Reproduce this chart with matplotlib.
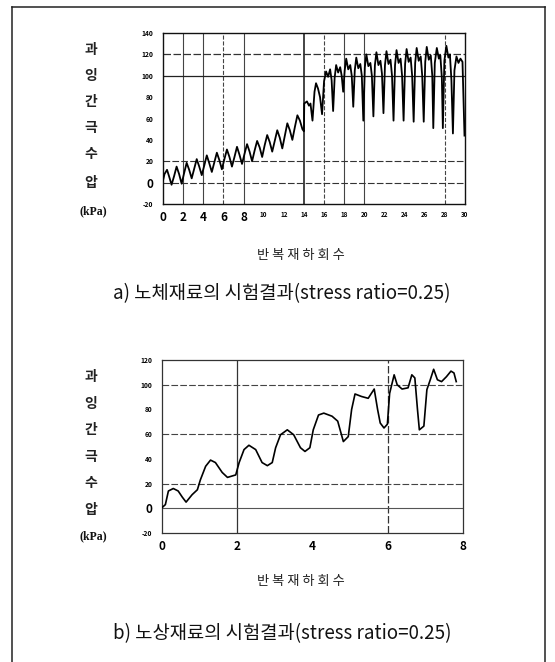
import matplotlib
matplotlib.use('Agg')
import matplotlib.pyplot as plt
from matplotlib.lines import Line2D

plt.rcParams['font.family'] = ['Noto Sans CJK KR', 'DejaVu Sans']

# (a) 노체재료 : 반복재하회수 vs 과잉간극수압 (kPa)
cycles_a = [0.0, 0.15, 0.4, 0.6, 0.85, 1.1, 1.35, 1.6, 1.85, 2.1, 2.35, 2.6, 2.85,
            3.1, 3.35, 3.6, 3.85, 4.1, 4.35, 4.6, 4.85, 5.1, 5.35, 5.6, 5.85,
            6.1, 6.35, 6.6, 6.85, 7.1, 7.35, 7.6, 7.85, 8.1, 8.35, 8.6, 8.85,
            9.1, 9.35, 9.6, 9.85, 10.1, 10.35, 10.6, 10.85, 11.1, 11.35, 11.6, 11.85,
            12.1, 12.35, 12.6, 12.85, 13.1, 13.35, 13.6, 13.85, 14.0,
            14.03, 14.3, 14.5, 14.65, 14.85, 15.05, 15.2, 15.4, 15.6, 15.8,
            16.0, 16.2, 16.4, 16.6, 16.75, 16.9, 17.05, 17.2, 17.4, 17.6, 17.75, 17.9,
            18.05, 18.2, 18.4, 18.6, 18.75, 18.9, 19.05, 19.2, 19.4, 19.6, 19.75, 19.9,
            20.05, 20.2, 20.4, 20.6, 20.75, 20.9, 21.05, 21.2, 21.4, 21.6, 21.75, 21.9,
            22.05, 22.2, 22.4, 22.6, 22.75, 22.9, 23.05, 23.2, 23.4, 23.6, 23.75, 23.9,
            24.05, 24.2, 24.4, 24.6, 24.75, 24.9, 25.05, 25.2, 25.4, 25.6, 25.75, 25.9,
            26.05, 26.2, 26.4, 26.6, 26.75, 26.85, 27.0, 27.2, 27.4, 27.55, 27.7, 27.8,
            27.95, 28.15, 28.35, 28.5, 28.65, 28.8, 28.95, 29.15, 29.35, 29.55, 29.75, 29.95]
pwp_a = [2, 8, 12, 6, -2, 6, 15, 8, -1, 9, 18.5, 12, 4,
         13, 22, 15, 7, 16, 25.5, 18, 10, 19, 28, 21, 12.5,
         22, 31, 24, 15, 24, 33.5, 26, 17.5, 27, 36, 29, 20,
         30, 39, 33, 24, 35, 44.5, 38, 29, 39, 49, 42, 32,
         44, 55.5, 49, 40, 52, 63, 58, 50, 48,
         74, 76, 72, 74, 58, 85, 93, 88, 80, 64,
         95, 104, 99, 106, 96, 67, 98, 110, 103, 108, 100, 85,
         105, 116, 106, 110, 100, 71, 105, 117, 107, 111, 100, 58,
         108, 120, 109, 112, 100, 62, 110, 122, 110, 114, 102, 65,
         110, 123, 111, 115, 100, 58, 110, 124, 112, 116, 100, 58,
         111, 125, 113, 117, 100, 57, 112, 126, 114, 118, 100, 57,
         113, 127, 115, 119, 100, 51, 112, 126, 116, 119, 98, 51,
         114, 128, 117, 120, 96, 46, 105, 118, 112, 116, 113, 44]

# (b) 노상재료
cycles_b = [0.0, 0.09, 0.17, 0.3, 0.43, 0.54, 0.64, 0.8, 0.94, 1.02, 1.16, 1.29, 1.42,
            1.6, 1.74, 1.96, 2.05, 2.18, 2.31, 2.49, 2.66, 2.8, 2.93, 3.02, 3.15,
            3.33, 3.5, 3.68, 3.8, 3.93, 4.02, 4.16, 4.3, 4.52, 4.67, 4.82, 4.95,
            5.04, 5.13, 5.3, 5.48, 5.64, 5.73, 5.8, 5.9, 5.99, 6.05, 6.17, 6.25,
            6.38, 6.54, 6.64, 6.72, 6.79, 6.84, 6.96, 7.04, 7.13, 7.22, 7.32, 7.43,
            7.56, 7.68, 7.76, 7.82]
pwp_b = [0.5, 3, 14, 16, 14, 9, 5, 11, 15, 23, 34, 39, 37,
         29, 25, 27, 37, 47.5, 51, 47.5, 37, 34.5, 37, 49, 59.5,
         63.5, 59.5, 49, 46, 49, 63.5, 75.5, 77, 74.5, 70.5, 54, 58,
         80, 92.5, 90.5, 89, 96.5, 80, 69, 65, 68, 93, 108, 100,
         96.5, 97.5, 108, 105.5, 80, 63.5, 66.5, 96, 104, 112.5, 104, 102.5,
         106.5, 111, 109.5, 102.5]

ytick_a = [-20, 0, 20, 40, 60, 80, 100, 120, 140]
xtick_a = list(range(0, 31, 2))
ytick_b = [-20, 0, 20, 40, 60, 80, 100, 120]
xtick_b = [0, 2, 4, 6, 8]

ylabel_chars = ['과', '잉', '간', '극', '수', '압']
xlabel_text = '반 복 재 하 회 수'
caption_a = 'a) 노체재료의 시험결과(stress ratio=0.25)'
caption_b = 'b) 노상재료의 시험결과(stress ratio=0.25)'

W, H = 555, 662
fig = plt.figure(figsize=(W / 100, H / 100), dpi=100)


def fx(px):
    return px / W


def fy(py):
    return 1 - py / H


def grid_line(ax, val, vertical, ls, color='#444444', lw=0.8):
    if vertical:
        ax.axvline(val, color=color, ls=ls, lw=lw, zorder=1)
    else:
        ax.axhline(val, color=color, ls=ls, lw=lw, zorder=1)


def style_axes(ax, xt, yt, big_x):
    ax.set_xticks(xt)
    ax.set_yticks(yt)
    ax.set_xticklabels([str(v) for v in xt])
    ax.set_yticklabels([str(v) for v in yt])
    ax.tick_params(length=0, pad=5)
    for lab, v in zip(ax.get_xticklabels(), xt):
        lab.set_fontweight('bold')
        lab.set_fontsize(8.5 if v in big_x else 4.5)
    for lab, v in zip(ax.get_yticklabels(), yt):
        lab.set_fontweight('bold')
        lab.set_fontsize(8.5 if v == 0 else 4.8)
    ax.tick_params(axis='y', pad=7)


# ---- panel a ----
ax1 = fig.add_axes([fx(163), fy(204), fx(302), 171 / H])
ax1.set_xlim(0, 30)
ax1.set_ylim(-20, 140)
for v, ls in [(2, '-'), (4, '-'), (6, '--'), (8, '-'), (16, '--'), (18, '-'), (20, '-'), (28, '--')]:
    grid_line(ax1, v, True, ls, color='#444444', lw=0.8)
grid_line(ax1, 14, True, '-', color='#111111', lw=1.1)
grid_line(ax1, 120, False, (0, (6, 2)), color='#333333', lw=0.9)
grid_line(ax1, 100, False, '-', color='#222222', lw=0.9)
grid_line(ax1, 20, False, (0, (6, 2)), color='#333333', lw=0.8)
grid_line(ax1, 0, False, (0, (6, 2)), color='#333333', lw=0.8)
ax1.plot(cycles_a, pwp_a, color='black', lw=1.3, zorder=3, solid_joinstyle='round')
for s in ax1.spines.values():
    s.set_color('#111111')
    s.set_linewidth(1.0)
style_axes(ax1, xtick_a, ytick_a, big_x=[0, 2, 4, 6, 8])

# ---- panel b ----
ax2 = fig.add_axes([fx(162), fy(533), fx(301), 173 / H])
ax2.set_xlim(0, 8)
ax2.set_ylim(-20, 120)
grid_line(ax2, 2, True, '-', color='#333333', lw=0.9)
grid_line(ax2, 6, True, (0, (6, 2)), color='#333333', lw=0.9)
for v in [100, 60, 20]:
    grid_line(ax2, v, False, (0, (6, 2)), color='#444444', lw=0.8)
grid_line(ax2, 0, False, '-', color='#555555', lw=0.8)
ax2.plot(cycles_b, pwp_b, color='black', lw=1.2, zorder=3, solid_joinstyle='round')
for s in ax2.spines.values():
    s.set_color('#333333')
    s.set_linewidth(0.9)
    s.set_linestyle((0, (4, 1)))
style_axes(ax2, xtick_b, ytick_b, big_x=xtick_b)

# ---- vertical y-labels ----
for ys, kpa_y in [([50, 76, 102, 128, 154, 183], 211), ([377, 404, 430, 457, 483, 510], 536)]:
    for ch, yy in zip(ylabel_chars, ys):
        fig.text(fx(91), fy(yy), ch, ha='center', va='center', fontsize=10,
                 fontweight='bold', color='#222222')
    fig.text(fx(93), fy(kpa_y), '(kPa)', ha='center', va='center', fontsize=8.5,
             fontweight='bold', color='#111111', fontfamily='Liberation Serif')

# ---- x labels and captions ----
fig.text(fx(301), fy(256), xlabel_text, ha='center', va='center', fontsize=9.5, color='#222222')
fig.text(fx(301), fy(581), xlabel_text, ha='center', va='center', fontsize=9.5, color='#222222')
fig.text(fx(282), fy(294), caption_a, ha='center', va='center', fontsize=13.5, color='#111111')
fig.text(fx(282), fy(634), caption_b, ha='center', va='center', fontsize=13.5, color='#111111')

# ---- outer frame (open at bottom) ----
for xs, ys in [([12, 12], [7, 662]), ([545, 545], [7, 662]), ([12, 545], [7, 7])]:
    fig.add_artist(Line2D([fx(x) for x in xs], [fy(y) for y in ys],
                          transform=fig.transFigure, color='#222222', lw=1.1))

fig.savefig('out.png', dpi=100)
